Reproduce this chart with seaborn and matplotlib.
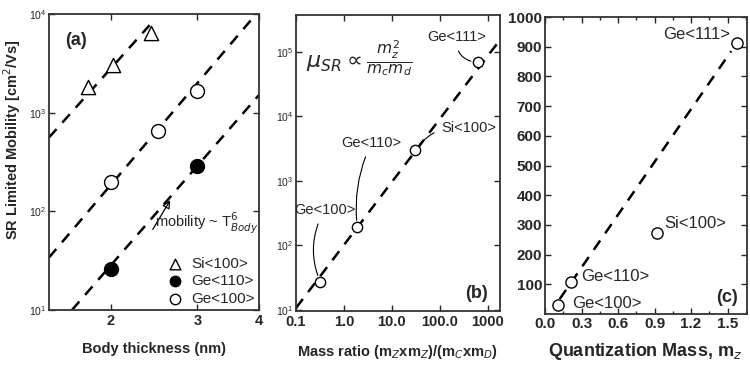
import matplotlib
matplotlib.use("Agg")
import matplotlib.pyplot as plt
import matplotlib.ticker as mticker
import seaborn as sns

# ---- panel (a): SR limited mobility vs body thickness ----
si100_t = [1.8, 2.02, 2.42]
si100_mu = [1830, 3050, 6400]
ge110_t = [2.0, 3.0]
ge110_mu = [26, 290]
ge100_t = [2.0, 2.5, 3.0]
ge100_mu = [196, 645, 1670]

# dashed ~T^6 guide lines (end points)
guide1_t = [1.5, 2.4]
guide1_mu = [560, 7700]
guide2_t = [1.5, 3.9]
guide2_mu = [34, 9300]
guide3_t = [1.67, 4.0]
guide3_mu = [10, 1510]

# ---- panel (b): mobility vs mass ratio ----
orient_labels = ["Ge<100>", "Ge<110>", "Si<100>", "Ge<111>"]
mass_ratio = [0.32, 1.9, 30, 615]
mu_ratio = [27, 190, 3000, 68000]
ratio_label_x = [0.40, 3.8, 400, 226]
ratio_label_y = [355, 3900, 6600, 1.7e5]
guide_b_x = [0.1, 1650]
guide_b_y = [10.7, 1.4e5]

# ---- panel (c): mobility vs quantization mass ----
mz = [0.11, 0.21, 0.92, 1.58]
mu_mz = [30, 108, 273, 912]
mz_label_x = [0.22, 0.30, 0.98, 1.52]
mz_label_y = [37, 125, 306, 940]
guide_c_x = [0.12, 1.53]
guide_c_y = [50, 885]

sns.set_style("ticks", {"xtick.direction": "in", "ytick.direction": "in",
                        "axes.edgecolor": "0.2"})
plt.rcParams["font.family"] = ["Liberation Sans", "DejaVu Sans"]
plt.rcParams["mathtext.fontset"] = "dejavusans"

DASH = (0, (4.5, 3.5))

fig = plt.figure(figsize=(7.5, 3.65), dpi=100)
ax_a = fig.add_axes([0.0653, 0.1507, 0.28, 0.811])
ax_b = fig.add_axes([0.3947, 0.148, 0.272, 0.811])
ax_c = fig.add_axes([0.7267, 0.1397, 0.2693, 0.8137])

# Panel (a)
for gx, gy in [(guide1_t, guide1_mu), (guide2_t, guide2_mu), (guide3_t, guide3_mu)]:
    sns.lineplot(x=gx, y=gy, ax=ax_a, color="black", lw=1.8, linestyle=DASH,
                 sort=False, estimator=None)
sns.scatterplot(x=si100_t, y=si100_mu, ax=ax_a, marker="^", s=105,
                facecolor="white", edgecolor="black", linewidth=1.0,
                label="Si<100>", zorder=3)
sns.scatterplot(x=ge110_t, y=ge110_mu, ax=ax_a, marker="o", s=100,
                color="black", edgecolor="black", linewidth=1.0,
                label="Ge<110>", zorder=3)
sns.scatterplot(x=ge100_t, y=ge100_mu, ax=ax_a, marker="o", s=100,
                facecolor="white", edgecolor="black", linewidth=1.0,
                label="Ge<100>", zorder=3)
ax_a.set_xscale("log")
ax_a.set_yscale("log")
ax_a.set_xlim(1.5, 4.0)
ax_a.set_ylim(10, 1e4)
ax_a.set_xticks([2, 3, 4])
ax_a.set_xticklabels(["2", "3", "4"])
ax_a.xaxis.set_minor_locator(mticker.NullLocator())
ax_a.yaxis.set_minor_locator(mticker.NullLocator())
ax_a.annotate("", xy=(2.66, 137), xytext=(2.42, 62),
              arrowprops=dict(arrowstyle="-|>", lw=0.9, color="black",
                              mutation_scale=12, fill=False))
ax_a.text(2.46, 75, r"mobility ~ T$_{Body}^{6}$", fontsize=10.5, va="center",
          ha="left")
ax_a.legend(loc="lower right", frameon=False, fontsize=11, handletextpad=0.1,
            labelspacing=0.25, borderaxespad=0.05, markerscale=0.75,
            borderpad=0.2)
ax_a.text(0.13, 0.91, "(a)", transform=ax_a.transAxes, fontsize=13,
          fontweight="bold", ha="center", va="center")
ax_a.set_xlabel("Body thickness (nm)", fontsize=10.5, fontweight="bold")
ax_a.xaxis.set_label_coords(0.5, -0.108)
ax_a.set_ylabel("SR Limited Mobility [cm$^2$/Vs]", fontsize=10.5,
                fontweight="bold")
ax_a.yaxis.set_label_coords(-0.125, 0.575)

# Panel (b)
sns.lineplot(x=guide_b_x, y=guide_b_y, ax=ax_b, color="black", lw=1.8,
             linestyle=DASH, sort=False, estimator=None)
sns.scatterplot(x=mass_ratio, y=mu_ratio, ax=ax_b, marker="o", s=55,
                facecolor="white", edgecolor="black", linewidth=1.0, zorder=3)
ax_b.set_xscale("log")
ax_b.set_yscale("log")
ax_b.set_xlim(0.1, 1800)
ax_b.set_ylim(9.6, 3.7e5)
ax_b.set_xticks([0.1, 1, 10, 100, 1000])
ax_b.set_xticklabels(["0.1", "1.0", "10.0", "100.0", "1000"])
ax_b.xaxis.set_minor_locator(mticker.NullLocator())
ax_b.yaxis.set_minor_locator(mticker.NullLocator())
rads = [0.25, 0.15, 0.3, 0.5]
for lab, px, py, lx, ly, r in zip(orient_labels, mass_ratio, mu_ratio,
                                  ratio_label_x, ratio_label_y, rads):
    ax_b.annotate(lab, xy=(px, py), xytext=(lx, ly), fontsize=10.5,
                  ha="center", va="center",
                  arrowprops=dict(arrowstyle="-", lw=0.8, color="black",
                                  shrinkA=3, shrinkB=5,
                                  connectionstyle=f"arc3,rad={r}"))
ax_b.text(0.31, 0.85, r"$\mu_{SR}\propto\frac{m_z^2}{m_c m_d}$",
          transform=ax_b.transAxes, fontsize=16, ha="center", va="center")
ax_b.text(0.887, 0.06, "(b)", transform=ax_b.transAxes, fontsize=13,
          fontweight="bold", ha="center", va="center")
ax_b.set_xlabel(r"Mass ratio (m$_Z$xm$_Z$)/(m$_C$xm$_D$)", fontsize=10.5,
                fontweight="bold")
ax_b.xaxis.set_label_coords(0.495, -0.108)

# Panel (c)
sns.lineplot(x=guide_c_x, y=guide_c_y, ax=ax_c, color="black", lw=1.8,
             linestyle=DASH, sort=False, estimator=None)
sns.scatterplot(x=mz, y=mu_mz, ax=ax_c, marker="o", s=65,
                facecolor="white", edgecolor="black", linewidth=1.0, zorder=3)
ax_c.set_xlim(0, 1.66)
ax_c.set_ylim(0, 1000)
ax_c.set_xticks([0.0, 0.3, 0.6, 0.9, 1.2, 1.5])
ax_c.set_xticklabels(["0.0", "0.3", "0.6", "0.9", "1.2", "1.5"])
ax_c.set_yticks(list(range(100, 1001, 100)))
ax_c.xaxis.set_minor_locator(mticker.MultipleLocator(0.15))
for lab, lx, ly in zip(orient_labels, mz_label_x, mz_label_y):
    ha = "right" if lab == "Ge<111>" else "left"
    ax_c.text(lx, ly, lab, fontsize=12, ha=ha, va="center")
ax_c.text(0.90, 0.057, "(c)", transform=ax_c.transAxes, fontsize=13,
          fontweight="bold", ha="center", va="center")
ax_c.set_xlabel(r"Quantization Mass, m$_z$", fontsize=13, fontweight="bold")
ax_c.xaxis.set_label_coords(0.495, -0.092)

for ax in (ax_a, ax_b, ax_c):
    ax.tick_params(which="both", top=True, right=True, length=4, width=1,
                   pad=2)
    ax.tick_params(which="minor", length=2.5)
    for sp in ax.spines.values():
        sp.set_linewidth(1.3)
for ax in (ax_a, ax_b):
    ax.tick_params(axis="y", labelsize=7.5)
    ax.tick_params(axis="x", labelsize=10.5, pad=3)
    for t in ax.get_xticklabels():
        t.set_fontweight("bold")
ax_c.tick_params(axis="both", labelsize=11)
for t in ax_c.get_xticklabels() + ax_c.get_yticklabels():
    t.set_fontweight("bold")

fig.savefig("out.png", dpi=100)
